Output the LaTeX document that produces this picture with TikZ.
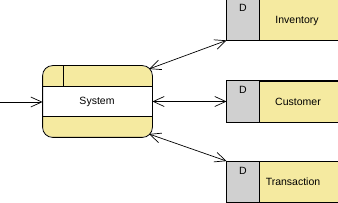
\documentclass[tikz,border=0pt]{standalone}
\usepackage{fontspec}
\setmainfont{Liberation Sans}
\usetikzlibrary{arrows.meta}
\definecolor{sysyellow}{RGB}{245,234,160}
\definecolor{dgray}{RGB}{208,208,208}
\begin{document}
\begin{tikzpicture}[x=1pt,y=-1pt,
  line width=0.8pt,
  lbl/.style={font=\fontsize{10.5}{12}\selectfont, inner sep=0pt},
  flow/.style={{Straight Barb[length=11pt,width=10pt]}-{Straight Barb[length=11pt,width=10pt]}, line width=0.7pt},
  inflow/.style={-{Straight Barb[length=11pt,width=10pt]}, line width=0.7pt},
  storebox/.style={draw, fill=sysyellow, inner sep=0pt, minimum width=123pt, minimum height=41pt}
]
\clip (0,0) rectangle (338,203);
\fill[white] (0,0) rectangle (338,203);
% system process
\node[fill=sysyellow, rounded corners=10pt, minimum width=109pt, minimum height=71pt, inner sep=0pt] (sys) at (97.5,101.5) {};
\fill[white] (43,86) rectangle (152,116);
\draw (43,86) -- (152,86);
\draw (43,116) -- (152,116);
\draw (63,66) -- (63,86);
\draw[rounded corners=10pt] (sys.north west) rectangle (sys.south east);
\node[lbl] (systxt) at (97,102) {System};
% stores
\node[storebox] (inv) at (288.5,19.5) {};
\fill[dgray] (inv.north west) rectangle (259,40);
\draw (inv.north west) rectangle (inv.south east);
\draw (259,-1) -- (259,40);
\node[lbl] (invD) at (243,8) {D};
\node[lbl] (invT) at (297,21) {Inventory};

\node[storebox] (cust) at (288.5,101.5) {};
\fill[dgray] (cust.north west) rectangle (259,122);
\draw (cust.north west) rectangle (cust.south east);
\draw (259,81) -- (259,122);
\node[lbl] (custD) at (243,90) {D};
\node[lbl] (custT) at (298,102) {Customer};

\node[storebox] (trans) at (288.5,182) {};
\fill[dgray] (trans.north west) rectangle (259,202.5);
\draw (trans.north west) rectangle (trans.south east);
\draw (259,161.5) -- (259,202.5);
\node[lbl] (transD) at (243,171) {D};
\node[lbl] (transT) at (293,182) {Transaction};
% connectors
\coordinate (src) at (0,102);
\coordinate (sysNE) at (149,69);
\coordinate (sysSE) at (149,134);
\draw[inflow] (src) -- (sys.west |- src);
\draw[flow] (sysNE) -- (inv.south west);
\draw[flow] (sys.east) -- (cust.west);
\draw[flow] (sysSE) -- (trans.north west);
\end{tikzpicture}
\end{document}
